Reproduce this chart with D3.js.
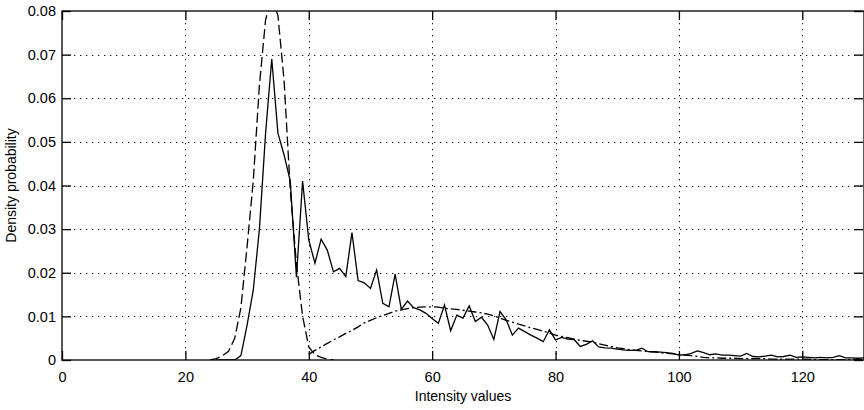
<!DOCTYPE html>
<html>
<head>
<meta charset="utf-8">
<script src="https://cdn.jsdelivr.net/npm/d3@7"></script>
<style>
  body { margin: 0; background: #fff; }
  svg { display: block; font-family: "Liberation Sans", Arial, sans-serif; }
</style>
</head>
<body>
<svg id="chart" width="864" height="410"></svg>
<script>
// tick labels
const xTicks = [0, 20, 40, 60, 80, 100, 120];
const yTicks = [0, 0.01, 0.02, 0.03, 0.04, 0.05, 0.06, 0.07, 0.08];

// measured histogram (solid), one value per intensity from 25 to 130
const histStart = 25;
const histValues = [
  0, 0, 0, 0, 0.001, 0.008, 0.016, 0.030, 0.052, 0.069,
  0.052, 0.047, 0.041, 0.019, 0.041, 0.0275, 0.0222, 0.0277, 0.0252, 0.0202,
  0.021, 0.0191, 0.0292, 0.0182, 0.0177, 0.0164, 0.0206, 0.013, 0.0122, 0.0197,
  0.0116, 0.0135, 0.012, 0.0115, 0.0107, 0.0095, 0.0084, 0.0126, 0.0067, 0.0103,
  0.0096, 0.0124, 0.0088, 0.0098, 0.008, 0.0047, 0.0111, 0.0092, 0.0057, 0.0073,
  0.0065, 0.0057, 0.005, 0.0042, 0.0069, 0.0046, 0.0052, 0.0048, 0.0047, 0.0031,
  0.0036, 0.0044, 0.003, 0.0028, 0.0027, 0.0025, 0.0023, 0.0022, 0.0022, 0.0027,
  0.0019, 0.0019, 0.0018, 0.0017, 0.0015, 0.0011, 0.0012, 0.0015, 0.0021, 0.0017,
  0.0012, 0.0014, 0.0011, 0.0011, 0.001, 0.0009, 0.0015, 0.0008, 0.0007, 0.0009,
  0.0011, 0.0007, 0.0008, 0.0011, 0.0006, 0.0007, 0.0006, 0.0005, 0.0006, 0.0005,
  0.0006, 0.001, 0.0005, 0.0005, 0.0004, 0.0005
];

// first fitted component (dashed), intensities 24..44
const comp1Start = 24;
const comp1Values = [
  0, 0.0003, 0.001, 0.002, 0.005, 0.012, 0.026, 0.041, 0.063, 0.078,
  0.083, 0.079, 0.064, 0.039, 0.022, 0.010, 0.003, 0.0012, 0.0006, 0.0002, 0
];

// second fitted component (dash-dot), intensities 40..130
const comp2Start = 40;
const comp2Values = [
  0.0013, 0.0022, 0.0030, 0.0038, 0.0046, 0.0053, 0.0061, 0.0068, 0.0076, 0.0085,
  0.0091, 0.0097, 0.0102, 0.0107, 0.0112, 0.0115, 0.0118, 0.0120, 0.0121, 0.0122,
  0.0122, 0.0121, 0.0119, 0.0117, 0.0116, 0.0114, 0.0112, 0.0110, 0.0108, 0.0105,
  0.0101, 0.0096, 0.0091, 0.0087, 0.0082, 0.0078, 0.0074, 0.0070, 0.0066, 0.0062,
  0.0057, 0.0054, 0.0051, 0.0048, 0.0045, 0.0043, 0.0041, 0.0037, 0.0034, 0.0031,
  0.0028, 0.0026, 0.0024, 0.0022, 0.0021, 0.0019, 0.0018, 0.0017, 0.0015, 0.0014,
  0.0013, 0.0011, 0.0010, 0.0008, 0.0006, 0.0005, 0.0005, 0.0004, 0.0004, 0.0004,
  0.0003, 0.0003, 0.0003, 0.0003, 0.0003, 0.0002, 0.0002, 0.0002, 0.0002, 0.0002,
  0.0002, 0.0002, 0.0001, 0.0001, 0.0001, 0.0001, 0.0001, 0.0001, 0.0001, 0.0001,
  0.0001
];

const plotLeft = 62, plotRight = 864, plotTop = 11, plotBottom = 360;
const svg = d3.select("#chart");

const x = d3.scaleLinear().domain([0, 130]).range([plotLeft, plotRight]);
const y = d3.scaleLinear().domain([0, 0.08]).range([plotBottom, plotTop]);

// dotted grid
const grid = svg.append("g")
  .attr("stroke", "#111")
  .attr("stroke-width", 1)
  .attr("stroke-dasharray", "1.3,4.7");
grid.selectAll(".gx").data(xTicks.slice(1)).join("line")
  .attr("x1", d => Math.round(x(d)) + 0.5).attr("x2", d => Math.round(x(d)) + 0.5)
  .attr("y1", plotTop).attr("y2", plotBottom);
grid.selectAll(".gy").data(yTicks.slice(1, -1)).join("line")
  .attr("y1", d => Math.round(y(d)) + 0.5).attr("y2", d => Math.round(y(d)) + 0.5)
  .attr("x1", plotLeft).attr("x2", plotRight);

// curves, clipped to the plot box
svg.append("clipPath").attr("id", "clip")
  .append("rect").attr("x", plotLeft).attr("y", plotTop)
  .attr("width", plotRight - plotLeft).attr("height", plotBottom - plotTop);

const toPoints = (start, vals) => vals.map((v, i) => [start + i, v]);
const line = d3.line().x(d => x(d[0])).y(d => y(d[1]));

const curves = svg.append("g").attr("clip-path", "url(#clip)")
  .attr("fill", "none").attr("stroke", "#000").attr("stroke-width", 1.3);

curves.append("path")
  .attr("d", line(toPoints(comp1Start, comp1Values)))
  .attr("stroke-dasharray", "10,4");
curves.append("path")
  .attr("d", line(toPoints(comp2Start, comp2Values)))
  .attr("stroke-dasharray", "9,3,2,3");
curves.append("path")
  .attr("d", line(toPoints(histStart, histValues)));

// axes with inward ticks on all four sides
const fmtY = d => d === 0 ? "0" : d3.format(".2f")(d);

svg.append("g")
  .attr("transform", `translate(0,${plotBottom})`)
  .call(d3.axisBottom(x).tickValues(xTicks).tickSize(-9).tickPadding(12));
svg.append("g")
  .attr("transform", `translate(${plotLeft},0)`)
  .call(d3.axisLeft(y).tickValues(yTicks).tickFormat(fmtY).tickSize(-9).tickPadding(6));
svg.append("g")
  .attr("transform", `translate(0,${plotTop})`)
  .call(d3.axisTop(x).tickValues(xTicks).tickSize(-9).tickFormat(""));
svg.append("g")
  .attr("transform", `translate(${plotRight - 1},0)`)
  .call(d3.axisRight(y).tickValues(yTicks).tickSize(-9).tickFormat(""));

svg.selectAll(".domain").remove();
svg.selectAll(".tick line").attr("stroke", "#000").attr("stroke-width", 1.3);
svg.selectAll(".tick text").attr("fill", "#000")
  .style("font-size", "14.5px").style("font-family", "'Liberation Sans', Arial, sans-serif");

// plot box
svg.append("rect")
  .attr("x", plotLeft).attr("y", plotTop)
  .attr("width", plotRight - plotLeft).attr("height", plotBottom - plotTop)
  .attr("fill", "none").attr("stroke", "#000").attr("stroke-width", 1.3);

// axis titles
svg.append("text")
  .attr("x", (plotLeft + plotRight) / 2).attr("y", 401)
  .attr("text-anchor", "middle")
  .style("font-size", "14px")
  .text("Intensity values");
svg.append("text")
  .attr("transform", `translate(16,${(plotTop + plotBottom) / 2}) rotate(-90)`)
  .attr("text-anchor", "middle")
  .style("font-size", "14px")
  .text("Density probability");
</script>
</body>
</html>
